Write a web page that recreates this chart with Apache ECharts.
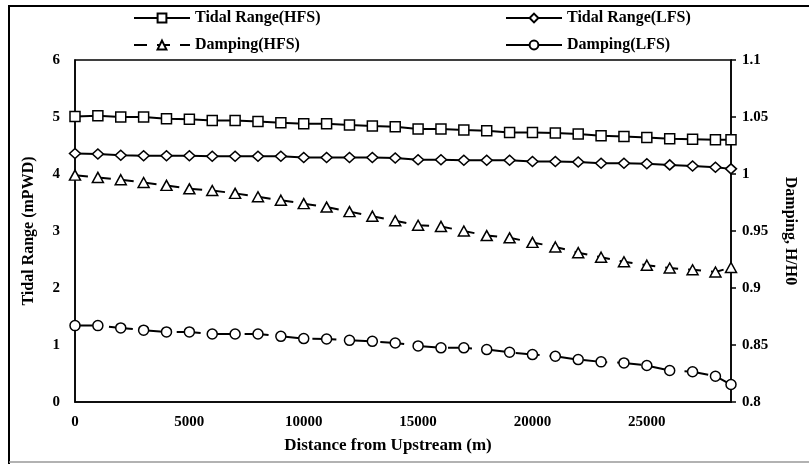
<!DOCTYPE html>
<html>
<head>
<meta charset="utf-8">
<script src="https://cdn.jsdelivr.net/npm/echarts@6/dist/echarts.min.js"></script>
<style>html,body{margin:0;padding:0;background:#fff}#c{width:809px;height:464px}</style>
</head>
<body>
<div id="c"></div>
<script>
const distance = [0,1000,2000,3000,4000,5000,6000,7000,8000,9000,10000,11000,12000,13000,14000,15000,16000,17000,18000,19000,20000,21000,22000,23000,24000,25000,26000,27000,28000,28680];
const tidalRangeHFS = [5.01,5.02,5.0,5.0,4.97,4.96,4.94,4.94,4.92,4.9,4.88,4.88,4.86,4.84,4.83,4.79,4.79,4.77,4.76,4.73,4.73,4.72,4.7,4.67,4.66,4.64,4.62,4.61,4.6,4.6];
const tidalRangeLFS = [4.36,4.35,4.33,4.32,4.32,4.32,4.31,4.31,4.31,4.31,4.29,4.29,4.29,4.29,4.28,4.25,4.25,4.24,4.24,4.24,4.22,4.22,4.21,4.19,4.19,4.18,4.16,4.14,4.12,4.09];
const dampingHFS = [0.999,0.997,0.995,0.9925,0.990,0.987,0.9855,0.983,0.980,0.977,0.974,0.971,0.967,0.963,0.959,0.955,0.954,0.950,0.946,0.944,0.940,0.936,0.931,0.927,0.923,0.920,0.9175,0.916,0.914,0.918];
const dampingLFS = [0.867,0.867,0.865,0.863,0.8615,0.8615,0.8597,0.8597,0.8597,0.8576,0.8556,0.8553,0.8541,0.8532,0.8518,0.8492,0.8475,0.8475,0.846,0.8436,0.8416,0.8401,0.8372,0.8352,0.8343,0.832,0.8276,0.8265,0.8226,0.8153];
const leftTicks = {min:0, max:6, interval:1};
const rightTicks = {min:0.8, max:1.1, interval:0.05};
const xTicks = {min:0, max:28680, interval:5000};

const FONT = 'Liberation Serif';
const pairs = arr => distance.map((d,i)=>[d, arr[i]]);
const chart = echarts.init(document.getElementById('c'));
const mk = (name, arr, yIdx, symbol, size, dash) => ({
  name, type:'line', yAxisIndex:yIdx, data: pairs(arr),
  symbol, symbolSize:size, showAllSymbol:true,
  lineStyle:{color:'#000', width:2, type:dash},
  itemStyle:{color:'#fff', borderColor:'#000', borderWidth:1.5},
  emphasis:{disabled:true}, animation:false, z:3
});
const lg = (name, left, top, lineType) => ({
  left, top, padding:0, itemWidth:56, itemHeight:11, itemGap:0,
  textStyle:{fontFamily:FONT, fontWeight:'bold', fontSize:16, color:'#000'},
  data:[{name, lineStyle: lineType ? {type:lineType} : undefined}]
});
chart.setOption({
  animation:false,
  backgroundColor:'#fff',
  grid:{left:75, right:78, top:60, bottom:62, show:true, borderColor:'#000', borderWidth:1.5, backgroundColor:'transparent'},
  legend:[
    lg('Tidal Range(HFS)', 133, 10),
    lg('Tidal Range(LFS)', 505, 10),
    lg('Damping(HFS)', 133, 37),
    lg('Damping(LFS)', 505, 37, 'solid')
  ],
  xAxis:{type:'value', min:xTicks.min, max:xTicks.max, interval:xTicks.interval,
    name:'Distance from Upstream (m)', nameLocation:'middle', nameGap:35,
    nameTextStyle:{fontFamily:FONT, fontWeight:'bold', fontSize:17, color:'#000', padding:[0,30,0,0]},
    axisLine:{lineStyle:{color:'#000', width:1.5}}, axisTick:{show:false}, splitLine:{show:false},
    axisLabel:{showMaxLabel:false, margin:13, fontFamily:FONT, fontWeight:'bold', fontSize:15, color:'#000',
      formatter: v => String(v)}},
  yAxis:[
    {type:'value', min:leftTicks.min, max:leftTicks.max, interval:leftTicks.interval,
     name:'Tidal Range (mPWD)', nameLocation:'middle', nameGap:38, nameRotate:90,
     nameTextStyle:{fontFamily:FONT, fontWeight:'bold', fontSize:16, color:'#000'},
     axisLine:{show:true, lineStyle:{color:'#000', width:1.5}}, axisTick:{show:false}, splitLine:{show:false},
     axisLabel:{margin:15, fontFamily:FONT, fontWeight:'bold', fontSize:15, color:'#000'}},
    {type:'value', position:'right', min:rightTicks.min, max:rightTicks.max, interval:rightTicks.interval,
     name:'Damping, H/H0', nameLocation:'middle', nameGap:51, nameRotate:-90,
     nameTextStyle:{fontFamily:FONT, fontWeight:'bold', fontSize:16, color:'#000'},
     axisLine:{show:true, lineStyle:{color:'#000', width:1.5}},
     axisTick:{show:true, inside:false, length:5, lineStyle:{color:'#000', width:1.5}}, splitLine:{show:false},
     axisLabel:{margin:11, fontFamily:FONT, fontWeight:'bold', fontSize:15, color:'#000'}}
  ],
  series:[
    mk('Tidal Range(HFS)', tidalRangeHFS, 0, 'rect', 10, 'solid'),
    mk('Tidal Range(LFS)', tidalRangeLFS, 0, 'diamond', [11,10], 'solid'),
    mk('Damping(HFS)', dampingHFS, 1, 'triangle', [11,10], [13,10]),
    mk('Damping(LFS)', dampingLFS, 1, 'circle', 10, [24,10])
  ],
  graphic:[
    {type:'line', shape:{x1:9, y1:5, x2:9, y2:464}, style:{stroke:'#000', lineWidth:2}, silent:true},
    {type:'line', shape:{x1:8, y1:6, x2:809, y2:6}, style:{stroke:'#000', lineWidth:2}, silent:true},
    {type:'line', shape:{x1:9, y1:462, x2:809, y2:462}, style:{stroke:'#999', lineWidth:1.5}, silent:true}
  ]
});
</script>
</body>
</html>
